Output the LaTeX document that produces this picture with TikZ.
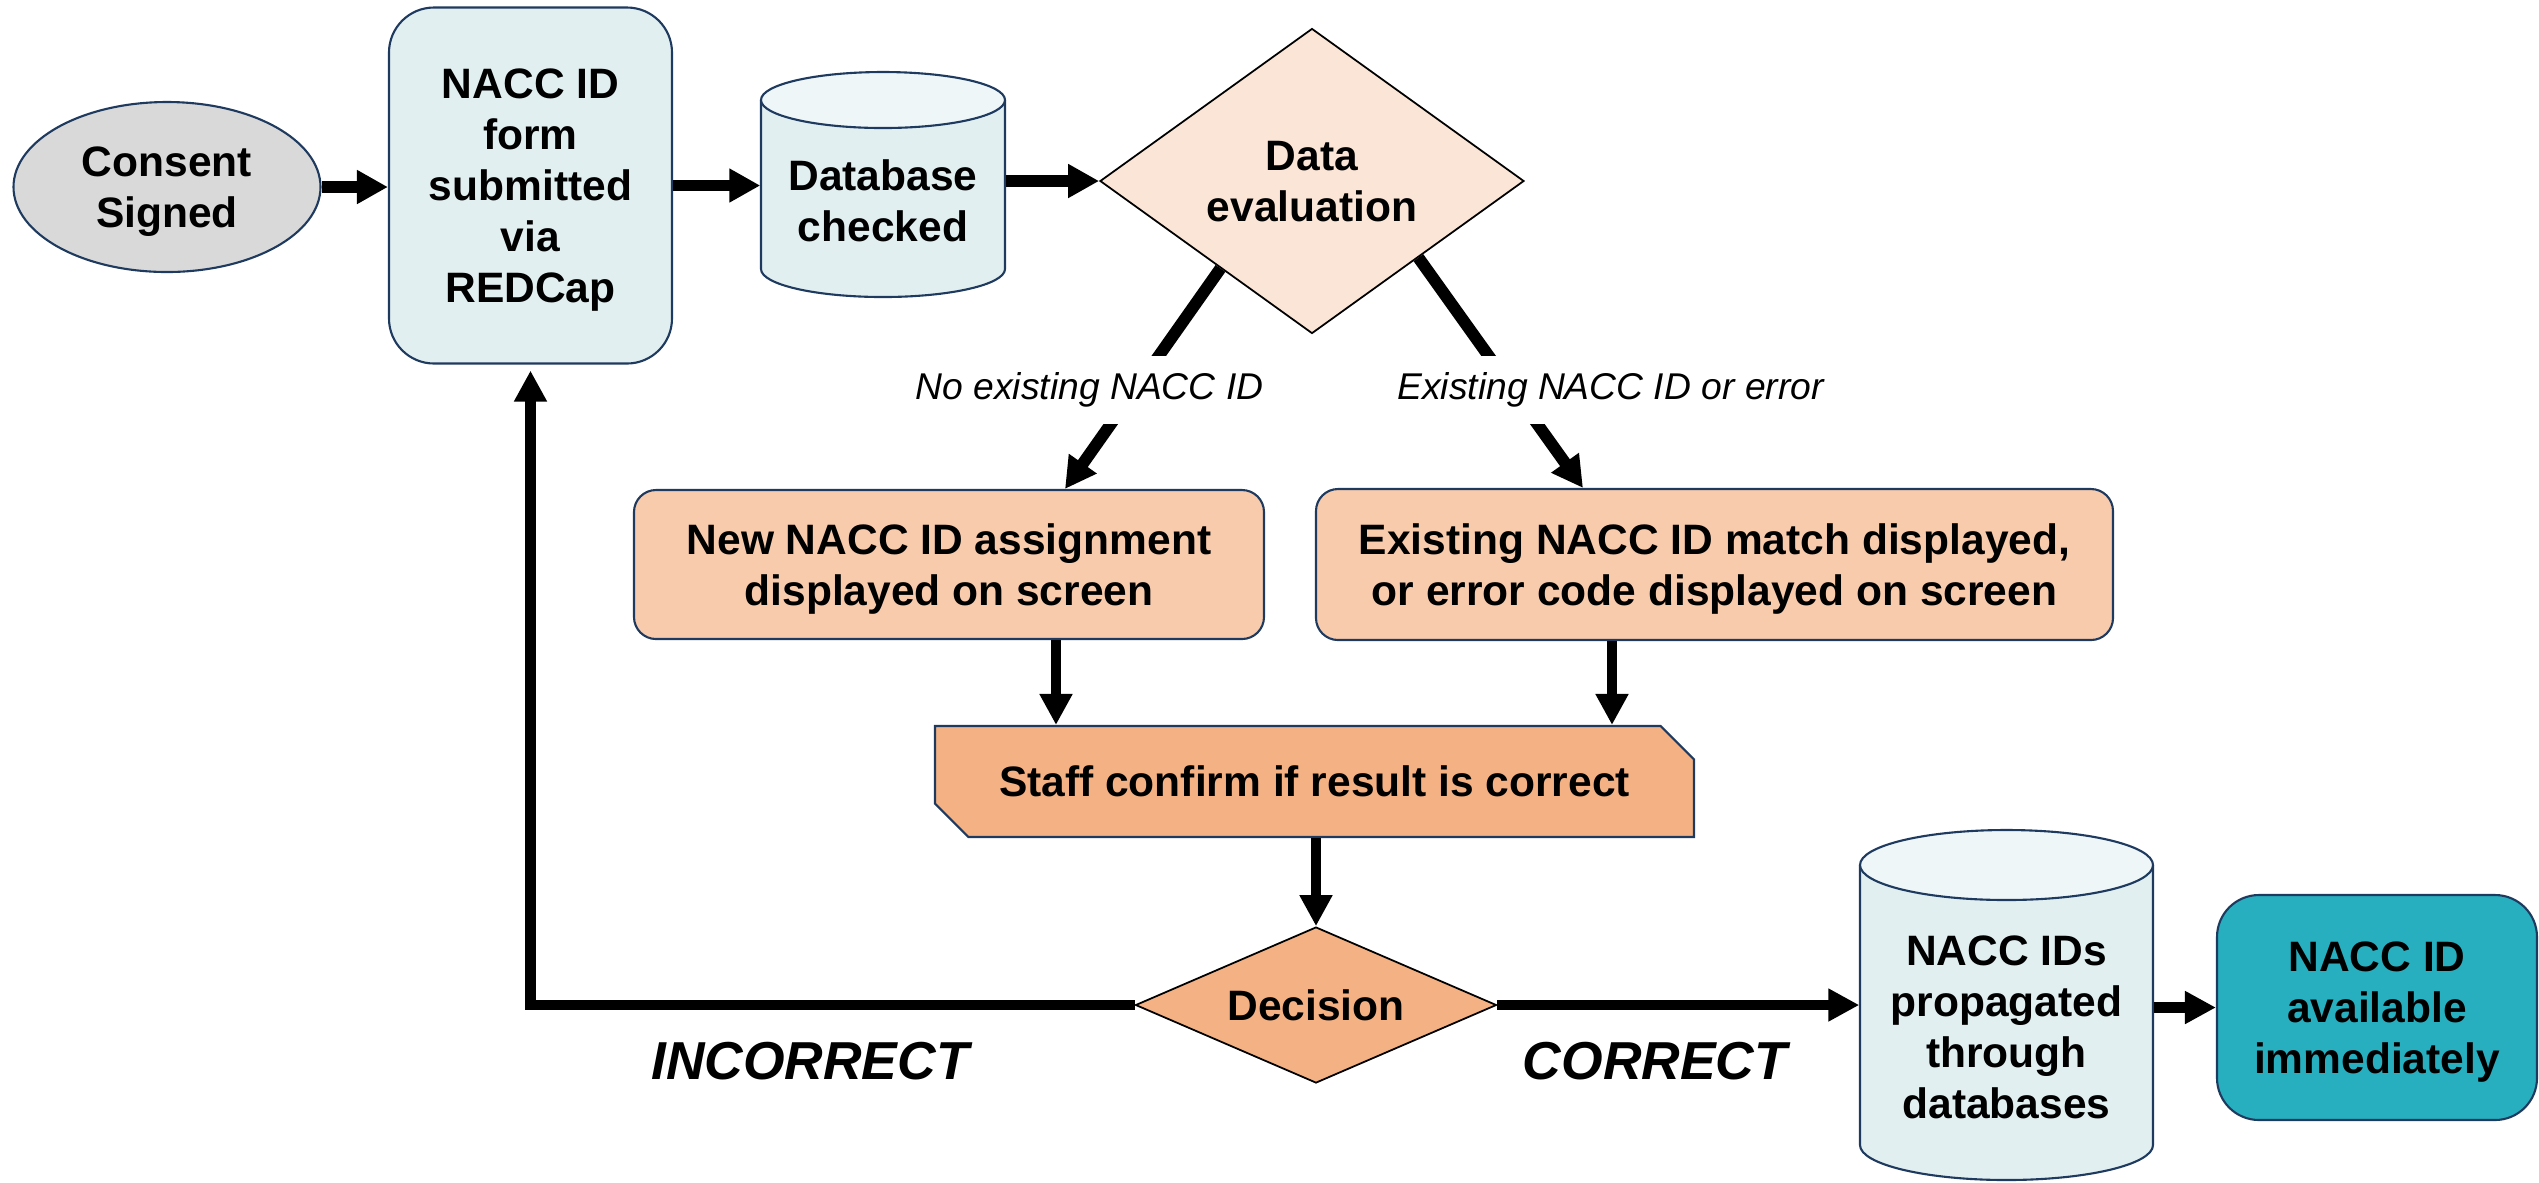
\documentclass[tikz,border=0pt]{standalone}
\usepackage{fontspec}
\setmainfont{Liberation Sans}
\usetikzlibrary{arrows.meta,shapes.geometric,shapes.misc,calc}
\definecolor{navy}{HTML}{1F3A5F}
\definecolor{greyfill}{HTML}{D9D9D9}
\definecolor{paleblue}{HTML}{E2EFF1}
\definecolor{paletop}{HTML}{EEF6F8}
\definecolor{palepeach}{HTML}{FBE5D6}
\definecolor{peach}{HTML}{F8CBAD}
\definecolor{apricot}{HTML}{F4B183}
\definecolor{tealbox}{HTML}{27AFC0}
\begin{document}
\begin{tikzpicture}[
	txt/.style={align=center,font=\bfseries\fontsize{12.1}{14.5}\selectfont,inner sep=0pt,text depth=0pt},
	box/.style={txt,draw=navy,line width=0.6pt,rounded corners=0.22cm},
	decide/.style={txt,diamond,draw=black,line width=0.5pt},
	note/.style={font=\itshape\fontsize{10.6}{12}\selectfont,fill=white,inner xsep=2pt,inner ysep=0.17cm},
	verdict/.style={font=\bfseries\itshape\fontsize{15.2}{18}\selectfont},
	bigflow/.style={line width=3.4pt,-{Triangle[length=0.31cm,width=0.32cm]}},
	flow/.style={line width=2.9pt,-{Triangle[length=0.31cm,width=0.31cm]}}
	]
	\useasboundingbox (0,0) rectangle (25.39,-11.82);
	% database drums
	\draw[navy,line width=0.6pt,fill=paleblue] (7.61,-1.00) -- (7.61,-2.69) arc[start angle=180,end angle=360,x radius=1.22cm,y radius=0.28cm] -- (10.05,-1.00);
	\draw[navy,line width=0.6pt,fill=paletop] (8.83,-1.00) ellipse[x radius=1.22cm,y radius=0.28cm];
	\draw[navy,line width=0.6pt,fill=paleblue] (18.60,-8.65) -- (18.60,-11.45) arc[start angle=180,end angle=360,x radius=1.465cm,y radius=0.35cm] -- (21.53,-8.65);
	\draw[navy,line width=0.6pt,fill=paletop] (20.065,-8.65) ellipse[x radius=1.465cm,y radius=0.35cm];
	% steps
	\node[txt,ellipse,draw=navy,line width=0.6pt,fill=greyfill,minimum width=3.07cm,minimum height=1.70cm] (consent) at (1.67,-1.87) {Consent\\Signed};
	\node[box,fill=paleblue,rounded corners=0.45cm,minimum width=2.83cm,minimum height=3.56cm] (form) at (5.305,-1.855) {NACC ID\\form\\submitted\\via\\REDCap};
	\node[txt,minimum width=2.44cm] (db) at (8.83,-2.01) {Database\\checked};
	\node[decide,fill=palepeach,aspect=1.39,minimum width=4.24cm,minimum height=3.05cm] (eval) at (13.12,-1.81) {Data\\evaluation};
	\node[box,fill=peach,minimum width=6.30cm,minimum height=1.49cm] (newid) at (9.49,-5.645) {New NACC ID assignment\\displayed on screen};
	\node[box,fill=peach,minimum width=7.97cm,minimum height=1.51cm] (exid) at (17.145,-5.645) {Existing NACC ID match displayed,\\or error code displayed on screen};
	\node[txt,chamfered rectangle,chamfered rectangle corners={north east,south west},chamfered rectangle sep=0.18cm,draw=navy,line width=0.6pt,fill=apricot,minimum width=7.59cm,minimum height=1.11cm] (staff) at (13.145,-7.815) {Staff confirm if result is correct};
	\node[decide,fill=apricot,aspect=2.31,minimum width=3.61cm,minimum height=1.56cm] (decision) at (13.16,-10.05) {Decision};
	\node[txt,minimum width=2.93cm] (prop) at (20.065,-10.27) {NACC IDs\\propagated\\through\\databases};
	\node[box,fill=tealbox,rounded corners=0.42cm,minimum width=3.20cm,minimum height=2.25cm] (final) at (23.77,-10.075) {NACC ID\\available\\immediately};
	% connectors
	\draw[bigflow] (consent.east) -- (consent.east -| form.west);
	\draw[bigflow] (form.east) -- (form.east -| db.west);
	\draw[bigflow] (db.east |- eval.west) -- (eval.west);
	\draw[bigflow] ($(eval.west)!0.57!(eval.south)$) -- ($(newid.north)+(1.16,0)$);
	\draw[bigflow] (eval.south east) -- ($(exid.north)+(-1.315,0)$);
	\draw[flow] ($(newid.south)+(1.07,0)$) coordinate (newfoot) -- (newfoot |- staff.north);
	\draw[flow] ($(exid.south)+(-1.025,0)$) coordinate (exfoot) -- (exfoot |- staff.north);
	\draw[flow] (staff.south -| decision.north) -- (decision.north);
	\draw[flow,shorten >=0.06cm] (decision.west) -| (form.south);
	\draw[flow] (decision.east) -- (decision.east -| prop.west);
	\draw[flow] (prop.east |- final.west) -- (final.west);
	% labels
	\node[note] (nolbl) at (10.895,-3.90) {No existing NACC ID};
	\node[note] (exlbl) at (16.105,-3.90) {Existing NACC ID or error};
	\node[verdict] (wrong) at (8.10,-10.61) {INCORRECT};
	\node[verdict] (right) at (16.55,-10.61) {CORRECT};
\end{tikzpicture}
\end{document}
